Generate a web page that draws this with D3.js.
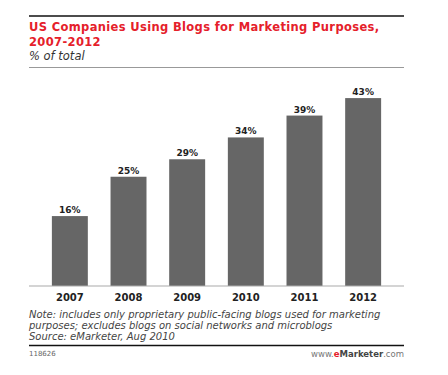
<!DOCTYPE html>
<html>
<head>
<meta charset="utf-8">
<script src="https://cdn.jsdelivr.net/npm/d3@7"></script>
<style>
    body { margin: 0; background: #fff; }
    svg { display: block; font-family: "DejaVu Sans", Verdana, sans-serif; }
</style>
</head>
<body>
<div id="chart"></div>
<script>

const years = ["2007", "2008", "2009", "2010", "2011", "2012"];
const shares = [16, 25, 29, 34, 39, 43];

const titleLines = ["US Companies Using Blogs for Marketing Purposes,", "2007-2012"];
const subtitle = "% of total";
const noteLines = [
    "Note: includes only proprietary public-facing blogs used for marketing",
    "purposes; excludes blogs on social networks and microblogs",
    "Source: eMarketer, Aug 2010"
];
const chartId = "118626";

const width = 448;
const height = 375;
const left = 29;
const right = 404;

const svg = d3.select("#chart")
    .append("svg")
    .attr("width", width)
    .attr("height", height);

// header
svg.append("line")
    .attr("x1", left).attr("x2", right)
    .attr("y1", 16).attr("y2", 16)
    .attr("stroke", "#111")
    .attr("stroke-width", 1.6);

svg.selectAll(".title")
    .data(titleLines)
    .enter()
    .append("text")
    .attr("class", "title")
    .attr("x", left)
    .attr("y", function(d, i) { return 30.5 + i * 15; })
    .attr("fill", "#e5202a")
    .attr("font-size", 11.5)
    .attr("font-weight", "bold")
    .attr("letter-spacing", 0.35)
    .text(function(d) { return d; });

svg.append("text")
    .attr("x", left)
    .attr("y", 60)
    .attr("fill", "#333")
    .attr("font-size", 11.5)
    .attr("font-style", "italic")
    .text(subtitle);

svg.append("line")
    .attr("x1", left).attr("x2", right)
    .attr("y1", 67.5).attr("y2", 67.5)
    .attr("stroke", "#999")
    .attr("stroke-width", 1);

// scales
const x = d3.scaleBand()
    .domain(years)
    .range([left, right])
    .paddingInner(0.387)
    .paddingOuter(0.39);

const y = d3.scaleLinear()
    .domain([0, 50])
    .range([286, 67.5]);

// bars
svg.selectAll(".bar")
    .data(shares)
    .enter()
    .append("rect")
    .attr("class", "bar")
    .attr("x", function(d, i) { return x(years[i]); })
    .attr("y", function(d) { return y(d); })
    .attr("width", x.bandwidth())
    .attr("height", function(d) { return y(0) - y(d); })
    .attr("fill", "#666");

svg.selectAll(".val")
    .data(shares)
    .enter()
    .append("text")
    .attr("class", "val")
    .attr("x", function(d, i) { return x(years[i]) + x.bandwidth() / 2; })
    .attr("y", function(d) { return y(d) - 3; })
    .attr("text-anchor", "middle")
    .attr("font-size", 9)
    .attr("font-weight", "bold")
    .attr("fill", "#222")
    .text(function(d) { return d + "%"; });

// x axis
const xAxis = svg.append("g")
    .attr("transform", "translate(0," + y(0) + ")")
    .call(d3.axisBottom(x).tickSize(0).tickPadding(8));

xAxis.select(".domain")
    .attr("stroke", "#aaa")
    .attr("stroke-width", 1.2)
    .attr("d", "M" + left + ",0H" + right);

xAxis.selectAll("text")
    .attr("font-family", "'DejaVu Sans', Verdana, sans-serif")
    .attr("font-size", 10)
    .attr("font-weight", "bold")
    .attr("fill", "#222");

// footer
svg.selectAll(".note")
    .data(noteLines)
    .enter()
    .append("text")
    .attr("class", "note")
    .attr("x", left)
    .attr("y", function(d, i) { return 317.5 + i * 11; })
    .attr("fill", "#444")
    .attr("font-size", 10)
    .attr("font-style", "italic")
    .text(function(d) { return d; });

svg.append("line")
    .attr("x1", left).attr("x2", right)
    .attr("y1", 345.5).attr("y2", 345.5)
    .attr("stroke", "#111")
    .attr("stroke-width", 1.6);

svg.append("text")
    .attr("x", left)
    .attr("y", 356)
    .attr("fill", "#666")
    .attr("font-size", 7)
    .text(chartId);

const brand = svg.append("text")
    .attr("x", right)
    .attr("y", 357)
    .attr("text-anchor", "end")
    .attr("font-size", 8.5)
    .attr("fill", "#777");

brand.append("tspan").text("www.");
brand.append("tspan").attr("fill", "#e5202a").attr("font-weight", "bold").text("e");
brand.append("tspan").attr("fill", "#444").attr("font-weight", "bold").text("Marketer");
brand.append("tspan").text(".com");

</script>
</body>
</html>
